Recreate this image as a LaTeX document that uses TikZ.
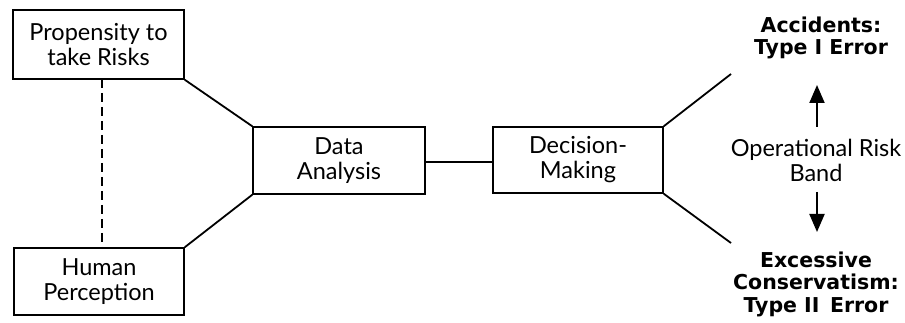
\documentclass[tikz,border=0pt]{standalone}
\usepackage{fontspec}
\setmainfont{Lato}
\newfontfamily\heavyfont{DejaVu Sans}
\usetikzlibrary{arrows.meta}
\tikzset{
  box/.style={draw, line width=1.5pt, minimum width=#1, inner sep=0pt, align=center, font=\fontsize{23.5}{25}\selectfont},
  link/.style={line width=1.8pt},
  heavy/.style={align=center, font=\fontsize{20.5}{22.5}\selectfont\heavyfont\bfseries, inner sep=0pt},
  plain/.style={align=center, font=\fontsize{23.5}{25}\selectfont, inner sep=0pt},
  band/.style={line width=2pt, -{Triangle[length=18pt,width=15pt]}}
}
\begin{document}
\begin{tikzpicture}[x=1pt,y=-1pt]
\useasboundingbox (0,0) rectangle (905,323);
\node[box=171pt, minimum height=69pt] (prop) at (98.5,44.5) {Propensity to\\take Risks};
\node[box=170pt, minimum height=67pt] (perc) at (99,281.5) {Human\\Perception};
\node[box=172pt, minimum height=67pt] (data) at (339,160.5) {Data\\Analysis};
\node[box=170pt, minimum height=66pt] (deci) at (578,160) {Decision-\\Making};
\coordinate (upend) at (731,74);
\coordinate (downend) at (731,243);
\node[heavy] (acc) at (821,38) {Accidents:\\Type I Error};
\node[heavy] (exc) at (816,284) {Excessive\\Conservatism:\\Type II\, Error};
\node[plain] (band) at (816,160) {Operational Risk\\Band};
\coordinate (uptip) at (817,85);
\coordinate (downtip) at (817,232);
\draw[link] (prop.south east) -- (data.north west);
\draw[link] (perc.north east) -- (data.south west);
\draw[link, dash pattern=on 9pt off 5pt] (102,79) -- (102,248);
\draw[link] (data.east |- 0,162) -- (deci.west |- 0,162);
\draw[link] (deci.north east) -- (upend);
\draw[link] (deci.south east) -- (downend);
\draw[band] (817,127) -- (uptip);
\draw[band] (817,192) -- (downtip);
\end{tikzpicture}
\end{document}
